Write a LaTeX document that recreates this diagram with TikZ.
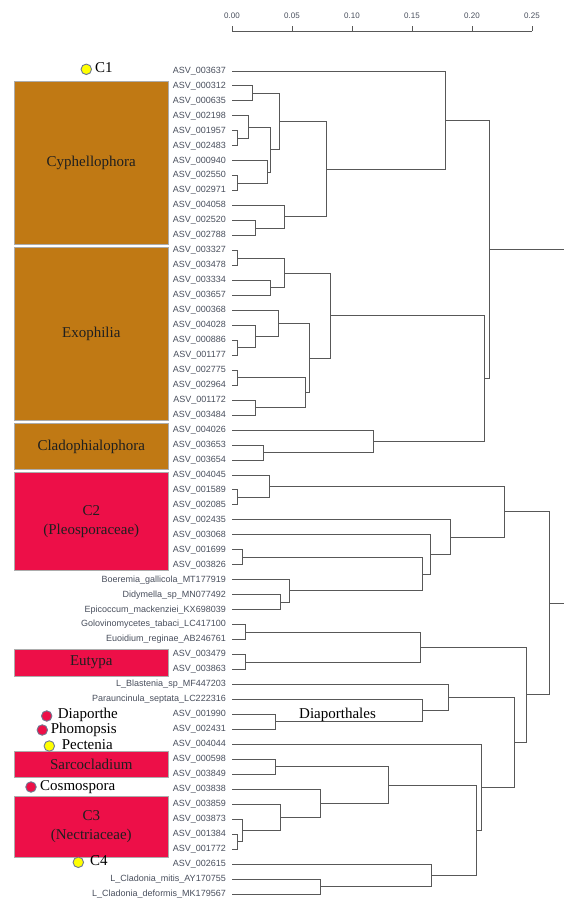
\documentclass[tikz,border=0pt]{standalone}
\usepackage{fontspec}
\setmainfont{Liberation Serif}
\newfontfamily\leafsans{Liberation Sans}
\usetikzlibrary{calc}
\definecolor{brownfill}{RGB}{192,121,20}
\definecolor{crimsonfill}{RGB}{237,15,72}
\definecolor{leafgray}{RGB}{72,78,92}
\definecolor{branchgray}{RGB}{88,88,88}
\definecolor{boxedge}{RGB}{172,172,172}
\definecolor{dotedge}{RGB}{110,120,145}
\definecolor{dotyellow}{RGB}{255,255,0}
\tikzset{
  branchline/.style={draw=branchgray, line width=1pt},
  leaflab/.style={anchor=east, inner sep=0pt, text=leafgray, font=\leafsans\fontsize{9}{10}\selectfont},
  ticklab/.style={inner sep=0pt, text=leafgray, font=\leafsans\fontsize{8}{9}\selectfont},
  gbox/.style={draw=boxedge, line width=0.9pt, minimum width=154pt, inner sep=0pt, align=center, text=black!88, font=\fontsize{15}{18.5}\selectfont},
  dotmark/.style={circle, draw=dotedge, line width=0.9pt, minimum size=10.5pt, inner sep=0pt},
  dotlab/.style={anchor=west, inner sep=0pt, text=black, font=\fontsize{15}{18}\selectfont},
}
\newcommand\joinat[4]{%
  \path let \p1=(#3), \p2=(#4) in coordinate (#1) at (#2pt,{(\y1+\y2)/2});%
  \draw[branchline] (#3) -| (#1);%
  \draw[branchline] (#4) -| (#1);}
\begin{document}
\begin{tikzpicture}[x=1pt,y=-1pt]
\useasboundingbox (0,0) rectangle (564,900);

% axis
\foreach \v [count=\k from 0] in {0.00,0.05,0.10,0.15,0.20,0.25} {
  \coordinate (ax\k) at ({232+60*\k},31);
  \draw[branchline, line width=0.9pt] (ax\k) -- ++(0,-5);
  \node[ticklab] (tl\k) at ({232+60*\k},16) {\v};
}
\draw[branchline, line width=0.9pt] (ax0) -- (ax5);

% leaves
\foreach \lab [count=\i] in {ASV\_003637, ASV\_000312, ASV\_000635, ASV\_002198, ASV\_001957, ASV\_002483, ASV\_000940, ASV\_002550, ASV\_002971, ASV\_004058, ASV\_002520, ASV\_002788, ASV\_003327, ASV\_003478, ASV\_003334, ASV\_003657, ASV\_000368, ASV\_004028, ASV\_000886, ASV\_001177, ASV\_002775, ASV\_002964, ASV\_001172, ASV\_003484, ASV\_004026, ASV\_003653, ASV\_003654, ASV\_004045, ASV\_001589, ASV\_002085, ASV\_002435, ASV\_003068, ASV\_001699, ASV\_003826, Boeremia\_gallicola\_MT177919, Didymella\_sp\_MN077492, Epicoccum\_mackenziei\_KX698039, Golovinomycetes\_tabaci\_LC417100, Euoidium\_reginae\_AB246761, ASV\_003479, ASV\_003863, L\_Blastenia\_sp\_MF447203, Parauncinula\_septata\_LC222316, ASV\_001990, ASV\_002431, ASV\_004044, ASV\_000598, ASV\_003849, ASV\_003838, ASV\_003859, ASV\_003873, ASV\_001384, ASV\_001772, ASV\_002615, L\_Cladonia\_mitis\_AY170755, L\_Cladonia\_deformis\_MK179567} {
  \node[leaflab] (t\i) at (226,{71+(\i-1)*14.9636}) {\lab};
  \coordinate (l\i) at (232,{71+(\i-1)*14.9636});
}

% Cyphellophora cluster
\joinat{a1}{252}{l2}{l3}
\joinat{a2}{237.3}{l5}{l6}
\joinat{a3}{248.7}{l4}{a2}
\joinat{a4}{237.3}{l8}{l9}
\joinat{a5}{267.3}{l7}{a4}
\joinat{a6}{270}{a3}{a5}
\joinat{a7}{279.3}{a1}{a6}
\joinat{a8}{255.3}{l11}{l12}
\joinat{a9}{284.7}{l10}{a8}
\joinat{a10}{326.5}{a7}{a9}
\joinat{a11}{445.5}{l1}{a10}
% Exophilia cluster
\joinat{b1}{237.3}{l13}{l14}
\joinat{b2}{270}{l15}{l16}
\joinat{b3}{284}{b1}{b2}
\joinat{b4}{237.3}{l19}{l20}
\joinat{b5}{255}{l18}{b4}
\joinat{b6}{278.3}{l17}{b5}
\joinat{b7}{237.3}{l21}{l22}
\joinat{b8}{255}{l23}{l24}
\joinat{b9}{305}{b7}{b8}
\joinat{b10}{309.3}{b6}{b9}
\joinat{b11}{330}{b3}{b10}
% Cladophialophora
\joinat{c1}{263}{l26}{l27}
\joinat{c2}{373.3}{l25}{c1}
\joinat{c3}{484.7}{b11}{c2}
\joinat{r1}{489.3}{a11}{c3}
% lower tree
\joinat{d1}{237.7}{l29}{l30}
\joinat{d2}{269}{l28}{d1}
\joinat{d3}{242.3}{l33}{l34}
\joinat{d4}{280.7}{l36}{l37}
\joinat{d5}{289}{l35}{d4}
\joinat{d6}{422.7}{d3}{d5}
\joinat{d7}{430}{l32}{d6}
\joinat{d8}{450.7}{l31}{d7}
\joinat{d9}{504.7}{d2}{d8}
\joinat{e1}{245}{l38}{l39}
\joinat{e2}{245}{l40}{l41}
\joinat{e3}{420.7}{e1}{e2}
\joinat{f1}{275.7}{l44}{l45}
\joinat{f2}{422.7}{l43}{f1}
\joinat{f3}{448}{l42}{f2}
\joinat{g1}{275.7}{l47}{l48}
\joinat{g2}{237.7}{l52}{l53}
\joinat{g3}{242.3}{l51}{g2}
\joinat{g4}{280.7}{l50}{g3}
\joinat{g5}{320.7}{l49}{g4}
\joinat{g6}{388.7}{g1}{g5}
\joinat{h1}{320}{l55}{l56}
\joinat{h2}{431.3}{l54}{h1}
\joinat{g7}{476.7}{g6}{h2}
\joinat{g8}{481}{l46}{g7}
\joinat{g9}{514}{f3}{g8}
\joinat{g10}{526}{e3}{g9}
\joinat{r2}{549.3}{d9}{g10}

\coordinate (rightedge) at (564,0);
\draw[branchline] (r1) -- (r1 -| rightedge);
\draw[branchline] (r2) -- (r2 -| rightedge);

\node[dotlab] (diaporthales) at (299,715) {Diaporthales};

% left boxes
\node[gbox, fill=brownfill, minimum height=162.3pt] (cyph) at (91.3,162.85) {Cyphellophora};
\node[gbox, fill=brownfill, minimum height=172.7pt] (exo) at (91.3,333.65) {Exophilia};
\node[gbox, fill=brownfill, minimum height=45.8pt] (clado) at (91.3,446.4) {Cladophialophora};
\node[gbox, fill=crimsonfill, minimum height=98pt] (ctwo) at (91.3,521.7) {C2\\(Pleosporaceae)};
\node[gbox, fill=crimsonfill, minimum height=26.7pt] (eutypa) at (91.3,662.65) {Eutypa};
\node[gbox, fill=crimsonfill, minimum height=26.7pt] (sarco) at (91.3,764.35) {Sarcocladium};
\node[gbox, fill=crimsonfill, minimum height=61.3pt] (cthree) at (91.3,826.65) {C3\\(Nectriaceae)};

% dots with labels
\node[dotmark, fill=dotyellow] (dc1) at (86.3,69.3) {};
\node[dotlab] (lc1) at (95,68) {C1};
\node[dotmark, fill=crimsonfill] (ddia) at (46.7,716) {};
\node[dotlab] (ldia) at (57.7,715) {Diaporthe};
\node[dotmark, fill=crimsonfill] (dpho) at (42.3,730) {};
\node[dotlab] (lpho) at (50.7,730) {Phomopsis};
\node[dotmark, fill=dotyellow] (dpec) at (49.3,746) {};
\node[dotlab] (lpec) at (61.7,745) {Pectenia};
\node[dotmark, fill=crimsonfill] (dcos) at (31,787) {};
\node[dotlab] (lcos) at (40,787) {Cosmospora};
\node[dotmark, fill=dotyellow] (dc4) at (78.3,862.3) {};
\node[dotlab] (lc4) at (90,861) {C4};
\end{tikzpicture}
\end{document}
